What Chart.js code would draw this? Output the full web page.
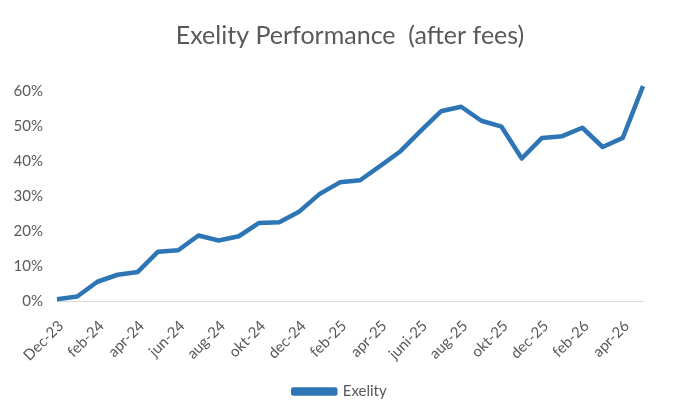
<!DOCTYPE html>
<html>
<head>
<meta charset="utf-8">
<script src="https://cdn.jsdelivr.net/npm/chart.js@4/dist/chart.umd.min.js"></script>
<style>
  html, body { margin: 0; padding: 0; background: #ffffff; }
  #wrap { width: 680px; height: 420px; }
</style>
</head>
<body>
<div id="wrap"><canvas id="perfChart" width="680" height="420"></canvas></div>
<script>
// maanden (alle punten), alleen elke tweede krijgt een label
const maanden = [
    "Dec-23", "jan-24", "feb-24", "mrt-24", "apr-24", "mei-24",
    "jun-24", "jul-24", "aug-24", "sep-24", "okt-24", "nov-24",
    "dec-24", "jan-25", "feb-25", "mrt-25", "apr-25", "mei-25",
    "juni-25", "juli-25", "aug-25", "sep-25", "okt-25", "nov-25",
    "dec-25", "jan-26", "feb-26", "mrt-26", "apr-26", "mei-26"
];

// rendement na kosten, in procent
const exelity = [
    0.5, 1.3, 5.5, 7.5, 8.3, 14.1,
    14.5, 18.7, 17.3, 18.5, 22.3, 22.5,
    25.6, 30.6, 33.9, 34.5, 38.6, 42.8,
    48.6, 54.2, 55.5, 51.5, 49.8, 40.7,
    46.6, 47.1, 49.5, 44.0, 46.6, 61.4
];

const yTicks = [0, 10, 20, 30, 40, 50, 60];

const blauw = "#2E75B6";
const grijs = "#595959";
const lettertype = "Lato, 'Open Sans', sans-serif";

const ctx = document.getElementById("perfChart").getContext("2d");

new Chart(ctx, {
    type: "line",
    data: {
        labels: maanden,
        datasets: [{
            label: "Exelity",
            data: exelity.map(v => v / 100),
            borderColor: blauw,
            backgroundColor: blauw,
            borderWidth: 4.5,
            pointRadius: 0,
            pointHoverRadius: 0,
            tension: 0,
            borderJoinStyle: "round",
            borderCapStyle: "butt",
            clip: false
        }]
    },
    options: {
        responsive: false,
        animation: false,
        devicePixelRatio: 1,
        layout: {
            padding: { left: 0, right: 0, top: 0, bottom: 11 }
        },
        plugins: {
            title: {
                display: true,
                fullSize: false,
                text: "Exelity Performance  (after fees)",
                color: grijs,
                font: { family: lettertype, size: 25, weight: "normal" },
                padding: { top: 21, bottom: 40 }
            },
            legend: {
                position: "bottom",
                labels: {
                    color: grijs,
                    font: { family: lettertype, size: 15 },
                    boxWidth: 42,
                    boxHeight: 4,
                    padding: 10
                }
            },
            tooltip: { enabled: false }
        },
        scales: {
            x: {
                offset: false,
                grid: { display: false, drawTicks: false },
                border: { display: true, color: "#d9d9d9", width: 1 },
                ticks: {
                    autoSkip: false,
                    maxRotation: 45,
                    minRotation: 45,
                    padding: 16,
                    labelOffset: 4,
                    color: grijs,
                    font: { family: lettertype, size: 15 },
                    callback: function (value, index) {
                        return index % 2 === 0 ? maanden[index] : "";
                    }
                },
                afterFit: function (scale) {
                    scale.height = 73;
                }
            },
            y: {
                min: yTicks[0] / 100,
                max: yTicks[yTicks.length - 1] / 100,
                grid: { display: false, drawTicks: false },
                border: { display: false },
                afterBuildTicks: function (scale) {
                    scale.ticks = yTicks.map(v => ({ value: v / 100 }));
                },
                ticks: {
                    padding: 14,
                    color: grijs,
                    font: { family: lettertype, size: 15 },
                    callback: function (value) {
                        return Math.round(value * 100) + "%";
                    }
                },
                afterFit: function (scale) {
                    scale.width = 57;
                }
            },
            // lege as rechts, alleen voor de marge
            rechts: {
                position: "right",
                display: true,
                grid: { display: false, drawTicks: false },
                border: { display: false },
                ticks: { display: false },
                afterFit: function (scale) {
                    scale.width = 37;
                }
            }
        }
    }
});
</script>
</body>
</html>
